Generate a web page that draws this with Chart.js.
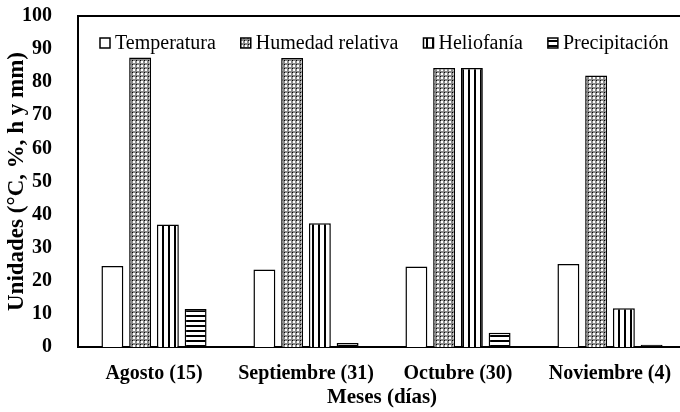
<!DOCTYPE html>
<html>
<head>
<meta charset="utf-8">
<script src="https://cdn.jsdelivr.net/npm/chart.js@4/dist/chart.umd.min.js"></script>
<style>
  html, body { margin: 0; padding: 0; background: #fff; overflow: hidden; }
  #wrap { position: relative; width: 690px; height: 412px; }
</style>
</head>
<body>
<div id="wrap"><canvas id="chart"></canvas></div>
<script>
const meses = ['Agosto (15)', 'Septiembre (31)', 'Octubre (30)', 'Noviembre (4)'];
const temperatura = [24.5, 23.4, 24.3, 25.1];
const humedad = [87.5, 87.3, 84.3, 82.0];
const heliofania = [37.0, 37.4, 84.3, 11.7];
const precipitacion = [11.5, 1.2, 4.3, 0.7];
const serieNombres = ['Temperatura', 'Humedad relativa', 'Heliofanía', 'Precipitación'];

const SERIF = '"Liberation Serif", "Times New Roman", serif';

// patterns (Excel-like fills)
function makePattern(w, h, draw) {
    const c = document.createElement('canvas');
    c.width = w; c.height = h;
    const g = c.getContext('2d');
    draw(g);
    return document.getElementById('chart').getContext('2d').createPattern(c, 'repeat');
}

const patHumedad = makePattern(4, 4, g => {
    g.fillStyle = '#8a8a8a';
    g.fillRect(0, 0, 4, 4);
    g.fillStyle = '#fff';
    g.fillRect(1, 1, 2, 2);
    g.fillStyle = '#000';
    g.fillRect(0, 0, 1, 1);
});
const patHelio = makePattern(6, 6, g => {
    g.fillStyle = '#fff'; g.fillRect(0, 0, 6, 6);
    g.fillStyle = '#000'; g.fillRect(0, 0, 2, 6);
});
const patPrecip = makePattern(5, 5, g => {
    g.fillStyle = '#fff'; g.fillRect(0, 0, 5, 5);
    g.fillStyle = '#000'; g.fillRect(0, 0, 5, 2);
});

const fills = ['#ffffff', patHumedad, patHelio, patPrecip];
const series = [temperatura, humedad, heliofania, precipitacion];

// legend drawn inside the plot area, and the top frame line
const framePlugin = {
    id: 'frame',
    afterDraw(chart) {
        const ctx = chart.ctx;
        const a = chart.chartArea;
        ctx.save();
        ctx.strokeStyle = '#000';
        ctx.lineWidth = 2;
        ctx.beginPath();
        ctx.moveTo(a.left, a.top);
        ctx.lineTo(a.right, a.top);
        ctx.stroke();

        ctx.font = '20px ' + SERIF;
        ctx.textBaseline = 'middle';
        let x = a.left + 22;
        const y = a.top + 27;
        chart.data.datasets.forEach(ds => {
            ctx.fillStyle = ds.backgroundColor;
            ctx.fillRect(x, y - 5, 10, 10);
            ctx.lineWidth = 1.5;
            ctx.strokeRect(x, y - 5, 10, 10);
            ctx.fillStyle = '#000';
            ctx.fillText(ds.label, x + 15, y + 1);
            x += 15 + ctx.measureText(ds.label).width + 25;
        });
        ctx.restore();
    }
};

new Chart(document.getElementById('chart'), {
    type: 'bar',
    data: {
        labels: meses,
        datasets: series.map((d, i) => ({
            label: serieNombres[i],
            data: d,
            backgroundColor: fills[i],
            borderColor: '#000',
            borderWidth: 1.5,
            categoryPercentage: 0.73,
            barPercentage: 0.79
        }))
    },
    options: {
        responsive: true,
        maintainAspectRatio: false,
        animation: false,
        layout: { padding: { top: 16, right: 4, left: 0, bottom: 0 } },
        plugins: {
            legend: { display: false },
            tooltip: { enabled: false }
        },
        scales: {
            x: {
                grid: { display: false },
                border: { color: '#000', width: 2 },
                ticks: { color: '#000', padding: 7, font: { family: SERIF, size: 20, weight: 'bold' } },
                title: {
                    display: true,
                    text: 'Meses (días)',
                    color: '#000',
                    font: { family: SERIF, size: 21, weight: 'bold' },
                    padding: { top: 0, bottom: 2 }
                },
                afterFit: s => { s.height = 65; }
            },
            y: {
                min: 0,
                max: 100,
                grid: { display: false },
                border: { color: '#000', width: 2 },
                ticks: { stepSize: 10, color: '#000', padding: 18, font: { family: SERIF, size: 20, weight: 'bold' } },
                title: {
                    display: true,
                    text: 'Unidades (°C, %, h y mm)',
                    color: '#000',
                    font: { family: SERIF, size: 23, weight: 'bold' },
                    padding: { top: 3, bottom: 0 }
                },
                afterFit: s => {
                    s.width = 78;
                    // tick padding would otherwise push the plot top down
                    s.paddingTop = 0;
                    s.paddingBottom = 0;
                }
            }
        }
    },
    plugins: [framePlugin]
});
</script>
</body>
</html>
